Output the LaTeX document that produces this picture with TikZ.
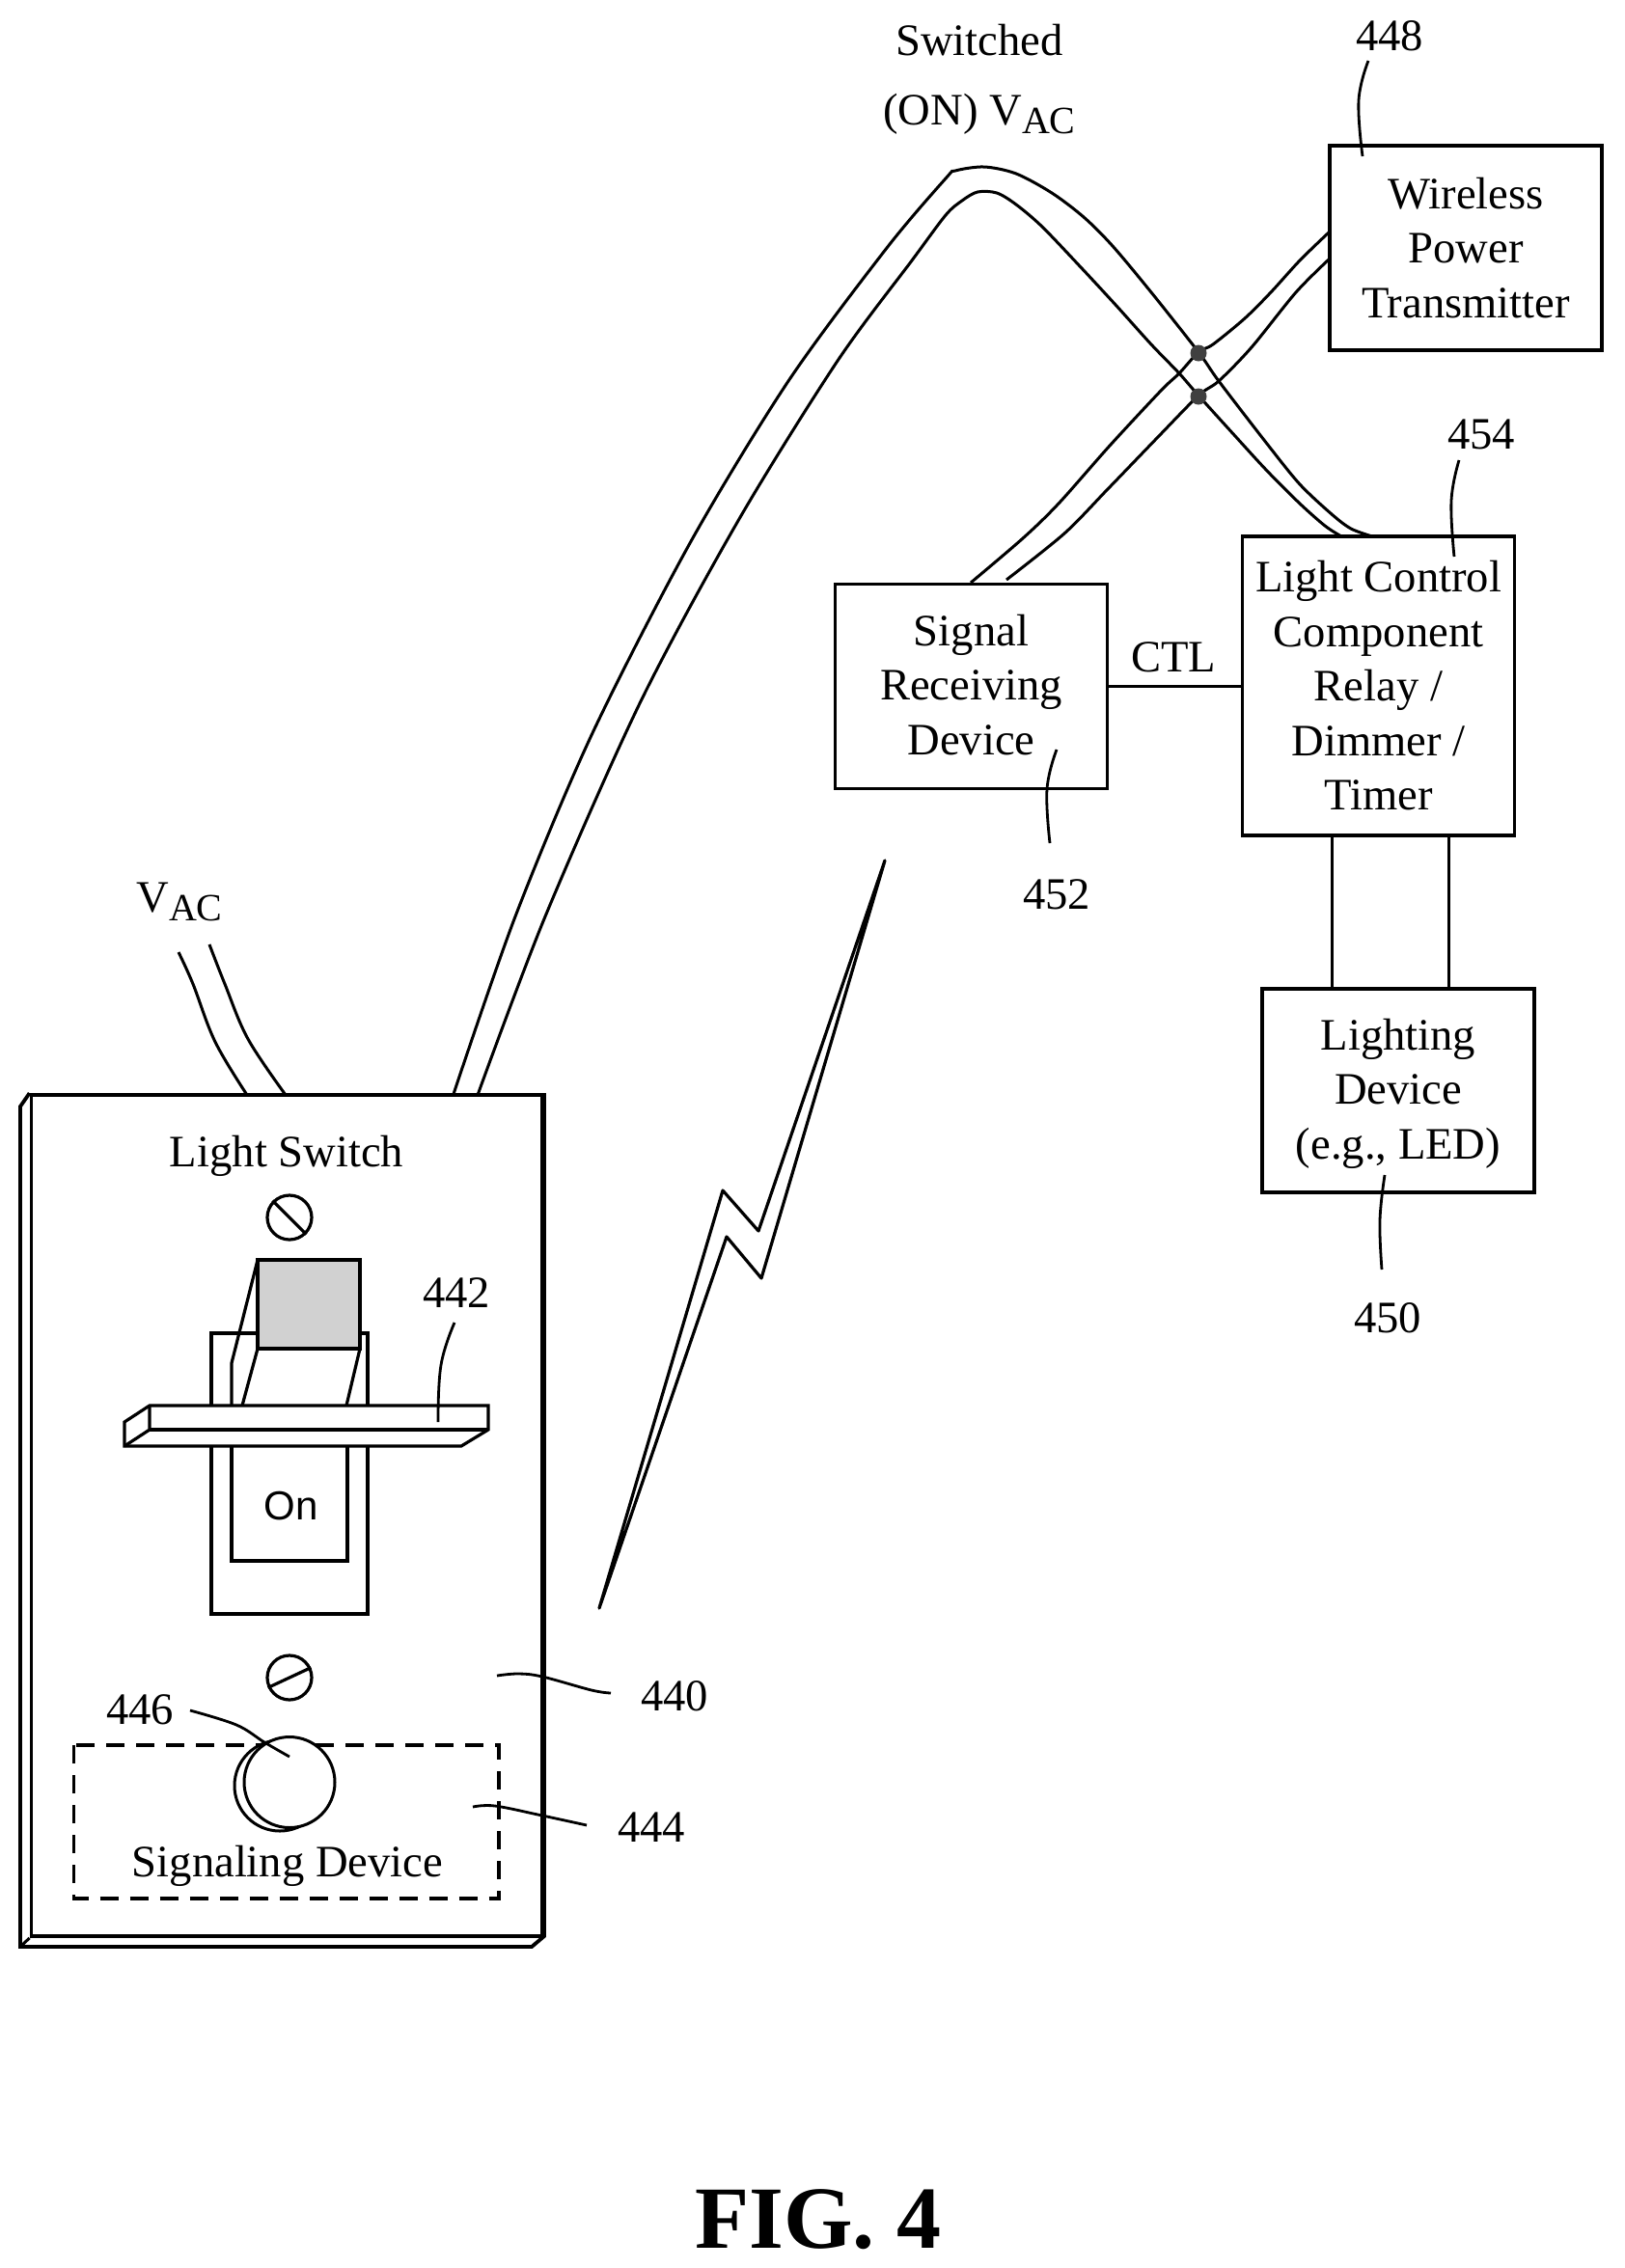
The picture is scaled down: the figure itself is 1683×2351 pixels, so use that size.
\documentclass[tikz,border=0pt]{standalone}
\usepackage{fontspec}
\setmainfont{Liberation Serif}
\newfontfamily\arialfont{Liberation Sans}
\tikzset{
  lbl/.style={anchor=base,inner sep=0pt,font=\fontsize{23.3}{28.25}\selectfont},
  boxnode/.style={draw,line width=1.7pt,inner sep=0pt,align=center,font=\fontsize{23.3}{28.25}\selectfont},
  wire/.style={line width=1.5pt},
  leader/.style={line width=1.4pt},
  outline/.style={line width=1.6pt,line join=miter},
  junction/.style={circle,fill=black!75,inner sep=0pt,minimum size=8.5pt},
  screw/.style={circle,draw,line width=1.6pt,inner sep=0pt,minimum size=23pt},
}
\newcommand{\subAC}{\raisebox{-4.6pt}{\fontsize{20}{20}\selectfont AC}}
\begin{document}
\begin{tikzpicture}[x=0.5pt,y=-0.5pt]
\useasboundingbox (0,0) rectangle (1683,2351);
% boxes
\node[boxnode,minimum width=141pt,minimum height=106pt] (wpt) at (1519,257) {Wireless\\Power\\Transmitter};
\node[boxnode,minimum width=141pt,minimum height=155pt] (lcc) at (1428.5,711) {Light Control\\Component\\Relay /\\Dimmer /\\Timer};
\node[boxnode,minimum width=141pt,minimum height=106pt] (srd) at (1006.5,711.5) {Signal\\Receiving\\Device\rule[-2pt]{0pt}{1pt}};
\node[boxnode,minimum width=141pt,minimum height=105.5pt] (ld) at (1449,1130.5) {\rule{0pt}{19.5pt}Lighting\\Device\\(e.g., LED)};
% connectors between boxes
\draw[wire] (srd.east |- 0,711) coordinate (ctlA) -- (lcc.west |- ctlA);
\draw[wire] (lcc.south -| 1380,0) -- (ld.north -| 1380,0);
\draw[wire] (lcc.south -| 1501,0) -- (ld.north -| 1501,0);
\node[lbl] (ctl) at (1216,696) {CTL};
% plate
\node[draw,line width=1.9pt,inner sep=0pt,minimum width=264.75pt,minimum height=436pt] (plate) at (297.25,1571) {};
\draw[line width=1.9pt,line join=miter] (plate.north west) -- (21,1147) -- (21,2018) -- (551,2018) -- (564,2007) -- (564,1137) -- (plate.north east);
\draw[line width=1.5pt] (21,2018) -- (plate.south west);
% VAC wires
\coordinate (va) at (185,987); \coordinate (vb) at (217,979);
\coordinate (pa) at (256,1135); \coordinate (pb) at (296,1135);
\draw[wire] plot[smooth,tension=0.6] coordinates {(va) (200,1020) (223,1080) (pa)};
\draw[wire] plot[smooth,tension=0.6] coordinates {(vb) (233,1020) (257,1077) (pb)};
\node[lbl] (vac) at (186,945) {V\subAC};
% switched wires
\coordinate (sa) at (470,1134); \coordinate (sb) at (495,1135);
\coordinate (la) at (1422,556); \coordinate (lb) at (1390,556);
\draw[wire] plot[smooth,tension=0.5] coordinates {(sa) (534,950) (613,762) (715,563) (817,395) (919,257) (980,185) (990,177) (1020,173) (1053,180) (1090,200) (1123,225) (1153,255) (1193,303) (1242,365) (1263,395) (1313,460) (1347,502) (1380,533) (1400,548) (la)};
\draw[wire] plot[smooth,tension=0.5] coordinates {(sb) (565,950) (664,727) (766,538) (868,374) (945,270) (980,223) (997,208) (1013,199) (1033,200) (1053,212) (1080,235) (1120,277) (1157,317) (1193,357) (1222,387) (1242,410) (1280,452) (1313,488) (1347,522) (1373,545) (lb)};
% wires to transmitter
\coordinate (ra) at (1006,604); \coordinate (rb) at (1043,601);
\coordinate (ta) at (1378,240); \coordinate (tb) at (1378,268);
\draw[wire] plot[smooth,tension=0.5] coordinates {(ra) (1060,558) (1097,522) (1150,462) (1203,405) (1222,387) (1242,365) (1257,357) (1290,330) (1317,303) (1347,270) (ta)};
\draw[wire] plot[smooth,tension=0.5] coordinates {(rb) (1103,553) (1147,508) (1200,453) (1242,410) (1263,395) (1297,360) (1343,303) (tb)};
\node[junction] (j1) at (1242,366) {};
\node[junction] (j2) at (1242,411) {};
% bolt
\draw[line width=1.6pt,line join=round] (917,892) -- (786,1276) -- (749,1234) -- (621,1667) -- (753,1282) -- (789,1325) -- cycle;
% labels upper
\node[lbl] (sw1) at (1015,57) {Switched};
\node[lbl] (sw2) at (1015,129) {(ON) V\subAC};
\node[lbl] (n448) at (1440,52) {448};
\coordinate (e448) at (1412,162);
\draw[leader] plot[smooth,tension=0.7] coordinates {(1418,63) (1408,104) (e448)};
\node[lbl] (n454) at (1535,465) {454};
\coordinate (e454) at (1507,577);
\draw[leader] plot[smooth,tension=0.7] coordinates {(1512,477) (1504,519) (e454)};
\node[lbl] (n452) at (1095,942) {452};
\coordinate (e452) at (1095,777);
\draw[leader] plot[smooth,tension=0.7] coordinates {(e452) (1085,818) (1088,874)};
\node[lbl] (n450) at (1438,1381) {450};
\coordinate (e450) at (1435,1218);
\draw[leader] plot[smooth,tension=0.7] coordinates {(e450) (1430,1265) (1432,1316)};
% plate contents
\node[lbl] (ls) at (297,1209) {Light Switch};
\node[screw] (s1) at (300,1262) {};
\draw[line width=1.6pt] (s1.135) -- (s1.-45);
\node[screw] (s2) at (300,1739) {};
\draw[line width=1.6pt] (s2.205) -- (s2.25);
% rocker housing
\draw[outline] (267,1382) -- (219,1382) -- (219,1673) -- (381,1673) -- (381,1382) -- (373,1382);
\draw[outline] (240,1470) -- (240,1618) -- (360,1618) -- (360,1470);
\node[lbl,font=\arialfont\fontsize{21}{24}\selectfont] (on) at (302,1575) {On};
% toggle
\draw[outline] (267,1306) -- (240,1413) -- (240,1457);
\draw[outline] (267,1398) -- (251,1457);
\draw[outline] (373,1398) -- (359,1457);
\draw[outline,fill=black!18] (267,1306) rectangle (373,1398);
% bar
\draw[outline,fill=white] (129,1474) -- (155,1457) -- (506,1457) -- (506,1482) -- (478,1499) -- (129,1499) -- cycle;
\draw[outline] (155,1457) -- (155,1482) -- (129,1499);
\draw[outline] (155,1482) -- (506,1482);
\node[lbl] (n442) at (473,1355) {442};
\coordinate (e442) at (454,1474);
\draw[leader] plot[smooth,tension=0.7] coordinates {(471,1371) (457,1415) (e442)};
% signaling
\draw[line width=1.6pt,dash pattern=on 9.5pt off 6pt] (76.5,1809) rectangle (517,1968);
\node[circle,draw,line width=1.5pt,inner sep=0pt,minimum size=47pt,fill=white] (c2) at (290,1851) {};
\node[circle,draw,line width=1.5pt,inner sep=0pt,minimum size=47pt,fill=white] (c1) at (300,1847.5) {};
\node[lbl] (sd) at (298,1945) {Signaling Device};
\node[lbl] (n446) at (145,1787) {446};
\coordinate (e446) at (300,1821);
\draw[leader] plot[smooth,tension=0.6] coordinates {(197,1773) (245,1788) (274,1806) (e446)};
\node[lbl] (n440) at (699,1773) {440};
\coordinate (e440) at (515,1737);
\draw[leader] plot[smooth,tension=0.6] coordinates {(e440) (537,1735) (562,1738) (613,1752) (633,1755)};
\node[lbl] (n444) at (675,1909) {444};
\coordinate (e444) at (490,1873);
\draw[leader] plot[smooth,tension=0.6] coordinates {(e444) (513,1872) (562,1882) (608,1892)};
% caption
\node[lbl,font=\bfseries\fontsize{46}{50}\selectfont] (fig) at (848,2330) {FIG. 4};
\end{tikzpicture}
\end{document}
